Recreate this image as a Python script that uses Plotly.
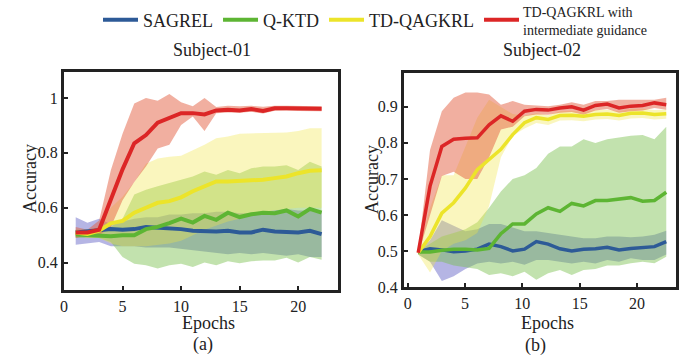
import plotly.graph_objects as go

FONT = "Liberation Serif"
INK = "#222222"

# ---------------- data: Subject-01 ----------------
epochs_a = [1, 2, 3, 4, 5, 6, 7, 8, 9, 10, 11, 12, 13, 14, 15, 16, 17, 18, 19, 20, 21, 22]

blue_a = [0.51, 0.513, 0.518, 0.522, 0.52, 0.522, 0.53, 0.528, 0.526, 0.522, 0.516, 0.513, 0.513, 0.516, 0.51, 0.51, 0.52, 0.513, 0.513, 0.51, 0.516, 0.504]
blue_a_hi = [0.565, 0.545, 0.56, 0.54, 0.55, 0.56, 0.565, 0.565, 0.575, 0.575, 0.58, 0.58, 0.585, 0.585, 0.58, 0.58, 0.585, 0.59, 0.595, 0.59, 0.59, 0.585]
blue_a_lo = [0.465, 0.47, 0.475, 0.46, 0.46, 0.46, 0.455, 0.455, 0.455, 0.45, 0.445, 0.44, 0.435, 0.43, 0.435, 0.43, 0.435, 0.43, 0.425, 0.43, 0.42, 0.42]

green_a = [0.502, 0.5, 0.5, 0.496, 0.5, 0.5, 0.522, 0.53, 0.544, 0.56, 0.546, 0.57, 0.556, 0.582, 0.566, 0.576, 0.582, 0.58, 0.59, 0.568, 0.596, 0.582]
green_a_hi = [0.52, 0.52, 0.52, 0.53, 0.56, 0.648, 0.666, 0.678, 0.69, 0.702, 0.714, 0.732, 0.72, 0.738, 0.726, 0.744, 0.75, 0.75, 0.755, 0.738, 0.768, 0.75]
green_a_lo = [0.49, 0.49, 0.49, 0.475, 0.42, 0.396, 0.39, 0.378, 0.39, 0.396, 0.384, 0.4, 0.39, 0.405, 0.398, 0.405, 0.408, 0.408, 0.418, 0.4, 0.42, 0.41]

yellow_a = [0.51, 0.504, 0.516, 0.543, 0.552, 0.582, 0.6, 0.618, 0.624, 0.638, 0.66, 0.68, 0.696, 0.696, 0.698, 0.7, 0.702, 0.708, 0.714, 0.726, 0.735, 0.737]
yellow_a_hi = [0.52, 0.52, 0.53, 0.6, 0.64, 0.694, 0.76, 0.78, 0.786, 0.79, 0.81, 0.83, 0.853, 0.86, 0.87, 0.871, 0.871, 0.874, 0.874, 0.88, 0.89, 0.89]
yellow_a_lo = [0.5, 0.49, 0.49, 0.47, 0.46, 0.46, 0.46, 0.465, 0.47, 0.48, 0.5, 0.52, 0.535, 0.55, 0.56, 0.575, 0.585, 0.59, 0.595, 0.6, 0.6, 0.6]

red_a = [0.51, 0.51, 0.52, 0.63, 0.74, 0.835, 0.865, 0.91, 0.927, 0.945, 0.945, 0.94, 0.955, 0.957, 0.955, 0.96, 0.953, 0.963, 0.963, 0.962, 0.961, 0.961]
red_a_hi = [0.53, 0.52, 0.553, 0.737, 0.87, 0.98, 1.0, 0.99, 1.015, 0.985, 0.97, 1.0, 0.967, 0.972, 0.97, 0.972, 0.968, 0.972, 0.972, 0.971, 0.97, 0.97]
red_a_lo = [0.49, 0.5, 0.5, 0.53, 0.627, 0.694, 0.75, 0.816, 0.83, 0.902, 0.933, 0.88, 0.945, 0.947, 0.946, 0.95, 0.944, 0.954, 0.955, 0.953, 0.952, 0.952]

# ---------------- data: Subject-02 ----------------
epochs_b = [0.92, 1.95, 2.98, 4.01, 5.04, 6.07, 7.1, 8.13, 9.16, 10.19, 11.22, 12.25, 13.28, 14.31, 15.34, 16.37, 17.4, 18.43, 19.46, 20.49, 21.52, 22.55]

blue_b = [0.498, 0.506, 0.503, 0.498, 0.5, 0.505, 0.519, 0.512, 0.5, 0.505, 0.526, 0.519, 0.506, 0.5, 0.505, 0.506, 0.51, 0.503, 0.507, 0.509, 0.512, 0.526]
blue_b_hi = [0.5, 0.53, 0.585, 0.57, 0.555, 0.56, 0.575, 0.575, 0.565, 0.555, 0.555, 0.55, 0.545, 0.54, 0.535, 0.535, 0.54, 0.54, 0.538, 0.54, 0.545, 0.556]
blue_b_lo = [0.49, 0.47, 0.417, 0.43, 0.45, 0.465, 0.47, 0.465, 0.47, 0.462, 0.475, 0.475, 0.47, 0.465, 0.47, 0.465, 0.475, 0.47, 0.48, 0.475, 0.475, 0.49]

green_b = [0.497, 0.497, 0.502, 0.505, 0.505, 0.503, 0.507, 0.548, 0.575, 0.575, 0.603, 0.62, 0.61, 0.632, 0.625, 0.64, 0.64, 0.643, 0.648, 0.638, 0.64, 0.663]
green_b_hi = [0.5, 0.52, 0.54, 0.55, 0.56, 0.58, 0.62, 0.665, 0.7, 0.71, 0.73, 0.77, 0.79, 0.79, 0.81, 0.8, 0.81, 0.815, 0.82, 0.822, 0.81, 0.845]
green_b_lo = [0.49, 0.47, 0.47, 0.46, 0.455, 0.45, 0.433, 0.438, 0.43, 0.442, 0.42, 0.438, 0.447, 0.433, 0.447, 0.45, 0.46, 0.46, 0.466, 0.47, 0.466, 0.484]

yellow_b = [0.495, 0.54, 0.605, 0.634, 0.675, 0.726, 0.754, 0.782, 0.823, 0.856, 0.87, 0.865, 0.876, 0.877, 0.874, 0.879, 0.88, 0.876, 0.882, 0.883, 0.879, 0.881]
yellow_b_hi = [0.5, 0.62, 0.71, 0.71, 0.79, 0.87, 0.92, 0.9, 0.88, 0.875, 0.882, 0.877, 0.888, 0.889, 0.886, 0.891, 0.892, 0.888, 0.894, 0.895, 0.891, 0.893]
yellow_b_lo = [0.49, 0.44, 0.5, 0.52, 0.53, 0.55, 0.625, 0.76, 0.82, 0.84, 0.855, 0.85, 0.862, 0.863, 0.86, 0.865, 0.866, 0.862, 0.868, 0.869, 0.865, 0.867]

red_b = [0.495, 0.68, 0.79, 0.81, 0.813, 0.814, 0.85, 0.875, 0.86, 0.888, 0.893, 0.891, 0.897, 0.9, 0.891, 0.904, 0.908, 0.897, 0.902, 0.904, 0.911, 0.906]
red_b_hi = [0.5, 0.78, 0.888, 0.925, 0.94, 0.94, 0.934, 0.906, 0.916, 0.906, 0.904, 0.902, 0.906, 0.913, 0.906, 0.916, 0.916, 0.92, 0.92, 0.92, 0.92, 0.925]
red_b_lo = [0.49, 0.6, 0.708, 0.72, 0.7, 0.7, 0.76, 0.837, 0.845, 0.874, 0.879, 0.878, 0.884, 0.886, 0.878, 0.89, 0.894, 0.884, 0.888, 0.89, 0.897, 0.892]

legend_labels = ["SAGREL", "Q-KTD", "TD-QAGKRL", " "]
red_label = "TD-QAGKRL with<br>intermediate guidance"
line_colors = ["#2d5a97", "#5db533", "#ece42a", "#dc2626"]
band_colors = ["rgba(90,90,195,0.45)", "rgba(120,190,75,0.45)",
               "rgba(240,228,70,0.35)", "rgba(228,95,65,0.5)"]

x_ticks = [0, 5, 10, 15, 20]
ya_ticks = [0.4, 0.6, 0.8, 1.0]
ya_text = ["0.4", "0.6", "0.8", "1"]
yb_ticks = [0.4, 0.5, 0.6, 0.7, 0.8, 0.9]
yb_text = ["0.4", "0.5", "0.6", "0.7", "0.8", "0.9"]

W, H = 685, 362

def fx(px):
    return px / W

def fy(py):
    return 1 - py / H

panels = [
    ("x", "y", epochs_a,
     [blue_a, green_a, yellow_a, red_a],
     [blue_a_hi, green_a_hi, yellow_a_hi, red_a_hi],
     [blue_a_lo, green_a_lo, yellow_a_lo, red_a_lo], 4, True),
    ("x2", "y2", epochs_b,
     [blue_b, green_b, yellow_b, red_b],
     [blue_b_hi, green_b_hi, yellow_b_hi, red_b_hi],
     [blue_b_lo, green_b_lo, yellow_b_lo, red_b_lo], 3.5, False),
]

fig = go.Figure()
for xa, ya, xs, mids, his, los, lw, legend in panels:
    for i in range(4):
        fig.add_trace(go.Scatter(
            x=list(xs) + list(xs)[::-1], y=list(his[i]) + list(los[i])[::-1],
            xaxis=xa, yaxis=ya, mode="lines", fill="toself",
            fillcolor=band_colors[i], line=dict(width=0), hoverinfo="skip",
            showlegend=False))
    for i in range(4):
        fig.add_trace(go.Scatter(
            x=xs, y=mids[i], xaxis=xa, yaxis=ya, mode="lines",
            line=dict(color=line_colors[i], width=lw),
            name=legend_labels[i], showlegend=legend))

axis_common = dict(showline=True, linewidth=3, linecolor=INK, mirror=True,
                   ticks="inside", ticklen=4, tickwidth=2, tickcolor=INK,
                   showgrid=False, zeroline=False, automargin=False,
                   tickfont=dict(family=FONT, size=16, color=INK))

fig.update_layout(
    width=W, height=H,
    margin=dict(l=0, r=0, t=0, b=0, autoexpand=False),
    paper_bgcolor="white", plot_bgcolor="white",
    font=dict(family=FONT, color=INK),
    xaxis=dict(domain=[fx(64), fx(338)], range=[0, 23.4], tickvals=x_ticks, anchor="y", **axis_common),
    yaxis=dict(domain=[fy(290), fy(72)], range=[0.3, 1.095], tickvals=ya_ticks, ticktext=ya_text, anchor="x", **axis_common),
    xaxis2=dict(domain=[fx(404), fx(676)], range=[-0.32, 23.4], tickvals=x_ticks, anchor="y2", **axis_common),
    yaxis2=dict(domain=[fy(287), fy(73)], range=[0.4, 0.994], tickvals=yb_ticks, ticktext=yb_text, anchor="x2", **axis_common),
    legend=dict(orientation="h", x=fx(98), xanchor="left", y=fy(20), yanchor="middle",
                font=dict(family=FONT, size=18, color=INK), itemwidth=35,
                bgcolor="rgba(0,0,0,0)", itemclick=False, tracegroupgap=0),
    showlegend=True,
)

def ann(text, x, y, size=18, angle=0, xanchor="center", align="center"):
    fig.add_annotation(text=text, x=fx(x), y=fy(y), xref="paper", yref="paper",
                       showarrow=False, textangle=angle, align=align,
                       font=dict(family=FONT, size=size, color=INK),
                       xanchor=xanchor, yanchor="middle")

ann(red_label, 521, 21, size=14, xanchor="left", align="left")
ann("Subject-01", 212, 50)
ann("Subject-02", 542, 50)
ann("Accuracy", 30, 179, angle=-90)
ann("Accuracy", 372, 180, angle=-90)
ann("Epochs", 208, 323)
ann("Epochs", 547, 323)
ann("(a)", 203, 344)
ann("(b)", 535, 345)

# remove the browser's default 8px page margin so the figure fills the window
fig.write_html("out.html", config={"displayModeBar": False},
               post_script="document.body.style.margin='0px';")
